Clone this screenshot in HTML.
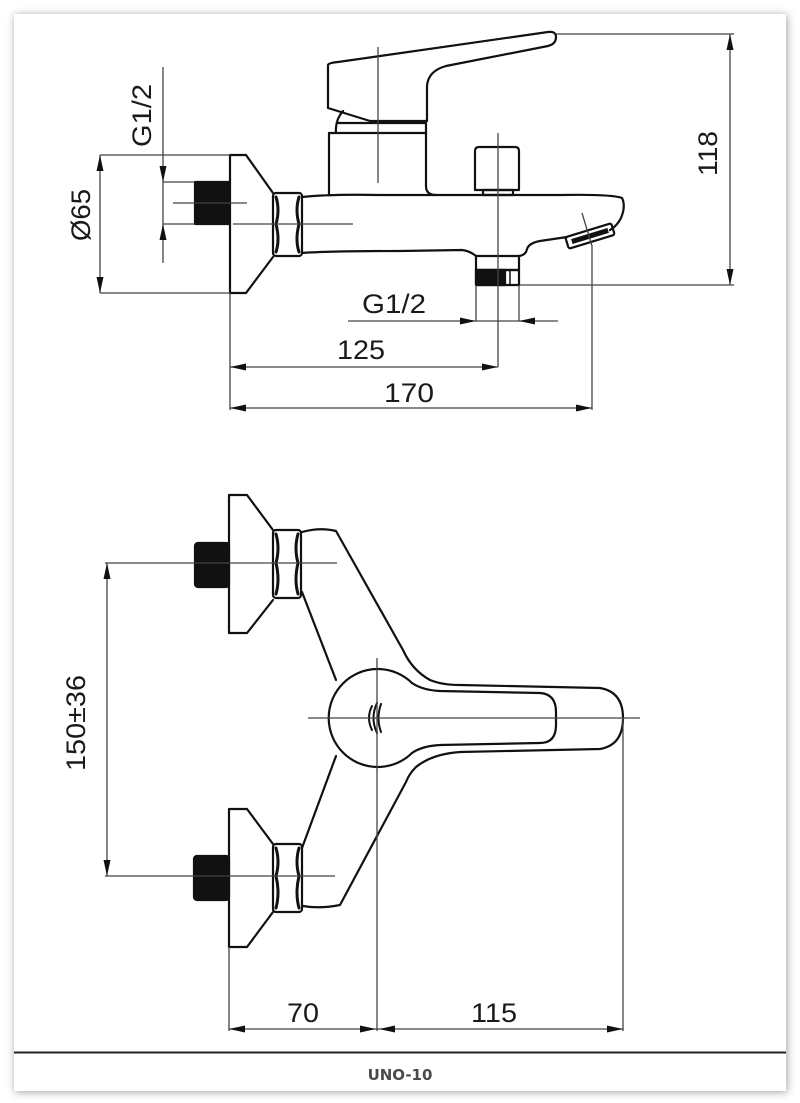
<!DOCTYPE html>
<html><head><meta charset="utf-8"><style>
html,body{margin:0;padding:0;background:#fff;width:800px;height:1103px;overflow:hidden}
.card{position:absolute;left:14px;top:14px;width:772px;height:1077px;background:#fff;box-shadow:1px 1px 8px rgba(0,0,0,0.38)}
svg{position:absolute;left:0;top:0}
</style></head><body>
<div class="card"></div>
<svg width="800" height="1103" viewBox="0 0 800 1103" xmlns="http://www.w3.org/2000/svg">
<g fill="none" stroke="#111" stroke-width="2.2" stroke-linejoin="round" stroke-linecap="round">
<!-- TOP VIEW -->
<path d="M273,193 L246,155 L230,155 L230,293 L246,293 L273,257"/>
<rect x="273" y="193" width="29" height="63" rx="3"/>
<path d="M276,197 Q280,210 276,224 Q280,240 276,252" stroke-width="3"/>
<path d="M299,197 Q295,210 299,224 Q295,240 299,252" stroke-width="3"/>
<path d="M302,197 Q330,194 380,195 L560,195 Q612,194 622,198 Q626,206 621,218 Q617,226 610,230"/>
<path d="M302,253 Q330,251 400,251 L462,250 Q470,251 476,256"/>
<path d="M519,256 Q526,255 527,249 Q529,243 540,241 L567,237"/>
<g transform="translate(590,236) rotate(-17)"><rect x="-24" y="-6" width="48" height="12" rx="2"/><rect x="-19" y="-2.5" width="38" height="5" fill="#111" stroke="none"/></g>
<rect x="476" y="256" width="43" height="14"/>
<rect x="476" y="270" width="43" height="15"/>
<rect x="476" y="270" width="29" height="15" fill="#111"/>
<path d="M510,271 L510,284" stroke-width="1.5"/>
<path d="M475,190 L475,151 Q475,147 479,147 L515,147 Q519,147 519,151 L519,190 Z"/>
<rect x="483" y="190" width="30" height="5"/>
<path d="M329,195 L329,133 L426,133 L426,186 Q426,195 436,195"/>
<path d="M336,133 Q335,120 343,111"/>
<path d="M338,123 L426,123 L426,133"/>
<path d="M328,65 L328,108 L370,121 L427,121 L427,86 Q428,71 446,66 L548,46 Q556,44 556,37 Q556,31 548,32 L338,62 Q328,63 328,65 Z"/>
<rect x="195" y="182" width="34" height="42" fill="#111"/>
<!-- BOTTOM VIEW -->
<path d="M273,530 L247,495 L229,495 L229,633 L247,633 L273,600"/>
<rect x="273" y="530" width="28" height="68" rx="3"/>
<path d="M276,534 Q280,548 276,563 Q280,580 276,594" stroke-width="3"/>
<path d="M298,534 Q294,548 298,563 Q294,580 298,594" stroke-width="3"/>
<rect x="195" y="543" width="34" height="44" rx="3" fill="#111"/>
<path d="M273,844 L247,809 L229,809 L229,947 L247,947 L273,912"/>
<rect x="273" y="844" width="29" height="68" rx="3"/>
<path d="M276,848 Q280,862 276,876 Q280,893 276,908" stroke-width="3"/>
<path d="M299,848 Q295,862 299,876 Q295,893 299,908" stroke-width="3"/>
<rect x="194" y="856" width="35" height="44" rx="3" fill="#111"/>
<path d="M302,532 Q320,527 336,531 L403,650 Q412,670 430,680 Q442,685 460,685 L600,688 Q623,692 623,718 Q623,745 600,749 L460,752 Q432,754 416,767 Q409,774 406,782 L340,905 Q320,909 303,906"/>
<path d="M302,592 L336,680"/>
<path d="M336,756 L302,848"/>
<path d="M412,683 A49,49 0 1,0 412,753"/>
<path d="M412,683 Q422,690 440,691 L540,693 Q556,694 556,712 L556,725 Q556,743 540,743 L440,745 Q422,746 412,753"/>
<path d="M372,706 Q366,718 372,730 M377,703 Q370,718 377,733 M381,704 Q376,718 381,732" stroke-width="2"/>
</g>
<!-- dimension & centre lines -->
<g fill="none" stroke="#444" stroke-width="1.3">
<path d="M173,203 L247,203 M233,224 L353,224 M378,47 L378,183"/>
<path d="M163,67 L163,263 M163,182 L195,182 M163,224 L195,224"/>
<path d="M100,155 L100,293 M100,155 L230,155 M100,293 L230,293"/>
<path d="M730,34 L730,285 M556,34 L734,34 M520,285 L734,285"/>
<path d="M348,321 L558,321 M476,285 L476,321 M519,285 L519,321"/>
<path d="M498,133 L498,367 M230,367 L498,367"/>
<path d="M230,293 L230,410 M230,408 L592,408 M582,213 L592,246 L592,410"/>
<path d="M105,563 L337,563 M105,876 L335,876 M107,563 L107,876"/>
<path d="M308,718 L640,718 M377,658 L377,1031 M623,718 L623,1031 M229,947 L229,1031"/>
<path d="M229,1029 L623,1029"/>
</g>
<g fill="#111" stroke="none">
<polygon points="163,182 159.5,166 166.5,166"/>
<polygon points="163,224 159.5,240 166.5,240"/>
<polygon points="100,155 96.5,171 103.5,171"/>
<polygon points="100,293 96.5,277 103.5,277"/>
<polygon points="730,34 726.5,50 733.5,50"/>
<polygon points="730,285 726.5,269 733.5,269"/>
<polygon points="476,321 460,317.5 460,324.5"/>
<polygon points="519,321 535,317.5 535,324.5"/>
<polygon points="230,367 246,363.5 246,370.5"/>
<polygon points="498,367 482,363.5 482,370.5"/>
<polygon points="230,408 246,404.5 246,411.5"/>
<polygon points="592,408 576,404.5 576,411.5"/>
<polygon points="107,563 103.5,579 110.5,579"/>
<polygon points="107,876 103.5,860 110.5,860"/>
<polygon points="229,1029 245,1025.5 245,1032.5"/>
<polygon points="376,1029 360,1025.5 360,1032.5"/>
<polygon points="379,1029 395,1025.5 395,1032.5"/>
<polygon points="623,1029 607,1025.5 607,1032.5"/>
</g>
<g font-family="'Liberation Sans', Arial, sans-serif" font-size="27" fill="#1a1a1a">
<text x="362" y="313" textLength="64" lengthAdjust="spacingAndGlyphs">G1/2</text>
<text x="337" y="359" textLength="48" lengthAdjust="spacingAndGlyphs">125</text>
<text x="384" y="402" textLength="50" lengthAdjust="spacingAndGlyphs">170</text>
<text x="287" y="1022" textLength="32" lengthAdjust="spacingAndGlyphs">70</text>
<text x="471" y="1022" textLength="46" lengthAdjust="spacingAndGlyphs">115</text>
<text transform="translate(717,176) rotate(-90)" textLength="45" lengthAdjust="spacingAndGlyphs">118</text>
<text transform="translate(151,147) rotate(-90)" textLength="63" lengthAdjust="spacingAndGlyphs">G1/2</text>
<text transform="translate(90,241) rotate(-90)" textLength="52" lengthAdjust="spacingAndGlyphs">Ø65</text>
<text transform="translate(85,771) rotate(-90)" textLength="96" lengthAdjust="spacingAndGlyphs">150±36</text>
</g>
<line x1="14" y1="1052.5" x2="786" y2="1052.5" stroke="#222" stroke-width="2"/>
<text x="400" y="1080" text-anchor="middle" font-family="'DejaVu Sans', Verdana, sans-serif" font-weight="bold" font-size="15" fill="#4a4a4a">UNO-10</text>
</svg>
</body></html>
